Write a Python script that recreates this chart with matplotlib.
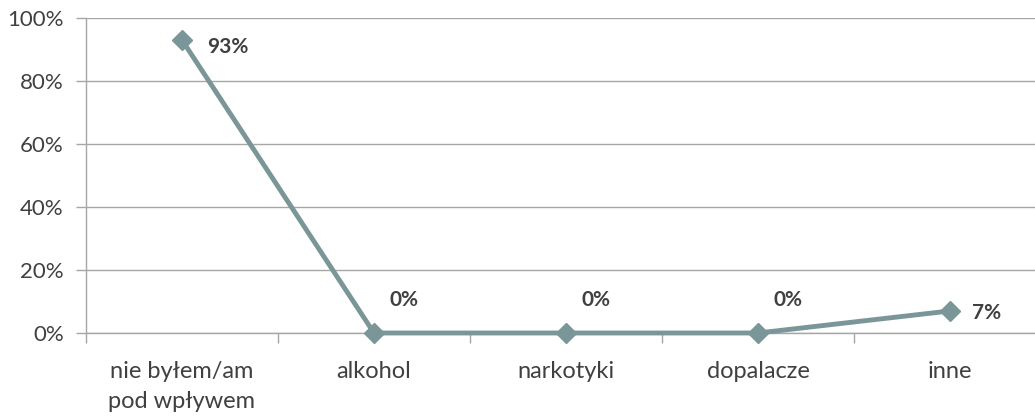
import matplotlib.pyplot as plt
import numpy as np

kategorie = ["nie byłem/am\npod wpływem", "alkohol", "narkotyki", "dopalacze", "inne"]
wartosci = [93, 0, 0, 0, 7]
# przesuniecia etykiet (piksele)
przesuniecia = [(25, -7), (15, 33), (15, 33), (15, 33), (22, -2)]

kolor_linii = "#7B9698"
kolor_tekstu = "#404040"
kolor_siatki = "#A6A6A6"

plt.rcParams['font.family'] = ['Lato', 'DejaVu Sans']

fig = plt.figure(figsize=(10.35, 4.16), dpi=100)
ax = fig.add_axes([86 / 1035, 83 / 416, 960 / 1035, 315 / 416])

x = np.arange(len(kategorie))
ax.plot(x, wartosci, color=kolor_linii, linewidth=3.5, marker='D', markersize=10,
        markerfacecolor=kolor_linii, markeredgecolor=kolor_linii, zorder=3, clip_on=False)

for xi, v, (dx, dy) in zip(x, wartosci, przesuniecia):
    ax.annotate(f"{v}%", (xi, v), xytext=(dx, dy), textcoords='offset pixels',
                ha='left', va='center', fontsize=15, fontweight='bold', color=kolor_tekstu)

ax.set_xlim(-0.5, len(kategorie) - 0.5)
ax.set_ylim(0, 100)
ax.set_yticks(range(0, 101, 20))
ax.set_yticklabels([f"{t}%" for t in range(0, 101, 20)])
ax.grid(axis='y', color=kolor_siatki, linewidth=1)
ax.set_axisbelow(True)

ax.set_xticks(x)
ax.set_xticklabels(kategorie, linespacing=1.55)
ax.set_xticks(np.arange(-0.5, len(kategorie), 1), minor=True)
ax.tick_params(axis='x', which='major', length=0, pad=20, labelsize=17, labelcolor=kolor_tekstu)
ax.tick_params(axis='x', which='minor', length=7, color=kolor_siatki, width=1)
ax.tick_params(axis='y', length=7, color=kolor_siatki, width=1, pad=9, labelsize=16, labelcolor=kolor_tekstu)

for s in ['top', 'right']:
    ax.spines[s].set_visible(False)
for s in ['left', 'bottom']:
    ax.spines[s].set_color(kolor_siatki)
    ax.spines[s].set_linewidth(1)

fig.savefig("out.png", dpi=100)
